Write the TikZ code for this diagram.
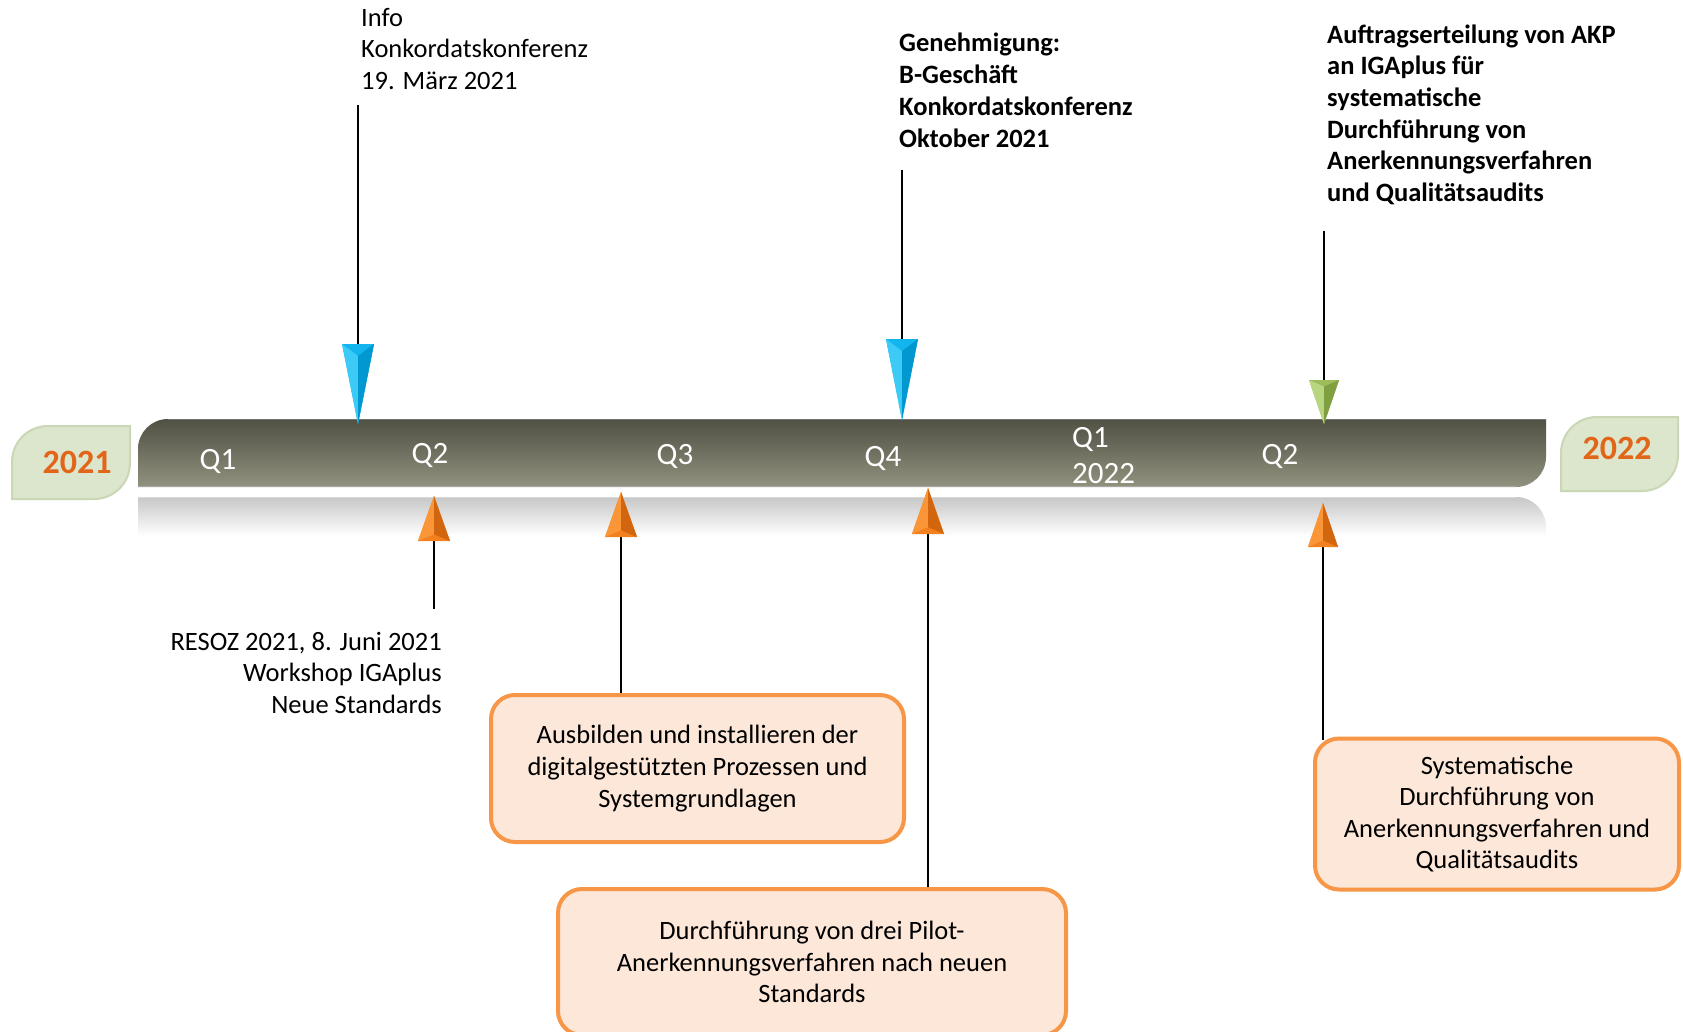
\documentclass[tikz,border=0pt]{standalone}
\usepackage{fontspec}
\setmainfont{Carlito}
\definecolor{barTop}{HTML}{505044}
\definecolor{barBot}{HTML}{92927F}
\definecolor{bluelight}{HTML}{3CCBF7}
\definecolor{bluemid}{HTML}{12B5EE}
\definecolor{bluedark}{HTML}{0098CE}
\definecolor{greenlight}{HTML}{B8D680}
\definecolor{greenmid}{HTML}{9DBD5B}
\definecolor{greendark}{HTML}{7F9F40}
\definecolor{orangelight}{HTML}{FB9638}
\definecolor{orangemid}{HTML}{F3801E}
\definecolor{orangedark}{HTML}{D2660E}
\definecolor{boxFill}{HTML}{FCE7D9}
\definecolor{boxLine}{HTML}{F79646}
\definecolor{leafFill}{HTML}{DCE6CC}
\definecolor{leafLine}{HTML}{CAD7B6}
\definecolor{yearText}{HTML}{E1661A}
\newcommand\pyr[5]{%
  \fill[#5mid] (#1-#4,#2) -- (#1+#4,#2) -- (#1,#3) -- cycle;
  \fill[#5light] (#1-#4,#2) -- ({#1},{#2+0.15*(#3-#2)}) -- (#1,#3) -- cycle;
  \fill[#5dark] (#1+#4,#2) -- ({#1},{#2+0.15*(#3-#2)}) -- (#1,#3) -- cycle;
}
\tikzset{
  txt/.style={inner sep=0pt, font=\fontsize{26.5}{31.7}\selectfont},
  btxt/.style={txt, font=\fontsize{26.5}{31.7}\selectfont\bfseries},
  qlab/.style={inner sep=0pt, text=white, font=\fontsize{31}{36}\selectfont},
  year/.style={inner sep=0pt, text=yearText, font=\fontsize{34}{36}\selectfont\bfseries},
  leaf/.style={fill=leafFill, draw=leafLine, line width=2pt},
  taskbox/.style={draw=boxLine, fill=boxFill, line width=4pt, rounded corners=24pt,
    align=center, inner sep=0pt, font=\fontsize{26.5}{31.6}\selectfont},
  conn/.style={draw=black, line width=1.8pt}
}
\begin{document}
\begin{tikzpicture}[x=1pt,y=-1pt]
\useasboundingbox (0,0) rectangle (1683,1031);
\clip (0,0) rectangle (1683,1031);
\fill[white] (0,0) rectangle (1683,1031);

% reflection of the bar
\shade[top color=black!22, bottom color=white]
  (138,497) -- (1516,497) .. controls (1532.6,497) and (1546,510.4) .. (1546,527)
  -- (1546,536) -- (138,536) -- cycle;
\draw[white!85!black, line width=1pt] (138,497.5) -- (1516,497.5);

% timeline bar
\shade[top color=barTop, bottom color=barBot]
  (138,487) -- (138,449) .. controls (138,432.4) and (151.4,419) .. (168,419)
  -- (1546,419) -- (1546,457) .. controls (1546,473.6) and (1532.6,487) .. (1516,487) -- cycle;
\draw[black!55, line width=1pt] (168,419.5) -- (1546,419.5);
\draw[black!35, line width=1.5pt] (138,486.5) -- (1516,486.5);

% year leaves
\path[leaf] (12,499) -- (12,462) .. controls (12,442) and (28,426) .. (48,426)
  -- (130,426) -- (130,463) .. controls (130,483) and (114,499) .. (94,499) -- cycle;
\node[year] (y2021) at (77,462) {2021};
\path[leaf] (1561,491) -- (1561,453) .. controls (1561,433) and (1577,417) .. (1597,417)
  -- (1678,417) -- (1678,455) .. controls (1678,475) and (1662,491) .. (1642,491) -- cycle;
\node[year] (y2022) at (1617,448) {2022};

% quarter labels
\node[qlab, anchor=base] (q1) at (218,469) {Q1};
\node[qlab, anchor=base] (q2) at (430,463) {Q2};
\node[qlab, anchor=base] (q3) at (675,464) {Q3};
\node[qlab, anchor=base] (q4) at (883,466) {Q4};
\node[qlab, anchor=base west] (q5) at (1072,447) {Q1};
\node[qlab, anchor=base west] (q5b) at (1072,483) {2022};
\node[qlab, anchor=base] (q6) at (1280,464) {Q2};

% top texts (anchored at the baseline of their last line)
\node[txt, anchor=base west, align=left] (t1) at (361,89.5)
  {Info\\Konkordatskonferenz\\19. März 2021};
\node[btxt, anchor=base west, align=left] (t2) at (899,147)
  {Genehmigung:\\B-Geschäft\\Konkordatskonferenz\\Oktober 2021};
\node[btxt, anchor=base west, align=left] (t3) at (1327,201.5)
  {Auftragserteilung von AKP\\an IGAplus für\\systematische\\Durchführung von\\Anerkennungsverfahren\\und Qualitätsaudits};

% bottom text
\node[txt, anchor=base east, align=right] (t4) at (442,713.5)
  {RESOZ 2021, 8. Juni 2021\\Workshop IGAplus\\Neue Standards};

% task boxes
\node[taskbox, minimum width=413pt, minimum height=147pt] (b1) at (697.5,768.5)
  {Ausbilden und installieren der\\digitalgestützten Prozessen und\\Systemgrundlagen};
\node[taskbox, minimum width=508pt, minimum height=146pt] (b2) at (812,962)
  {Durchführung von drei Pilot-\\Anerkennungsverfahren nach neuen\\Standards};
\node[taskbox, minimum width=364pt, minimum height=151pt] (b3) at (1497,814)
  {Systematische\\Durchführung von\\Anerkennungsverfahren und\\Qualitätsaudits};

% connector anchor points
\coordinate (s1) at (358,105);
\coordinate (a1) at (358,344);
\coordinate (s2) at (902,170);
\coordinate (a2) at (902,339);
\coordinate (s3) at (1324,231);
\coordinate (a3) at (1324,380);
\coordinate (o1) at (434,541);
\coordinate (e1) at (434,609);
\coordinate (o2) at (621,537);
\coordinate (o3) at (928,534);
\coordinate (o4) at (1323,547);

% connectors
\draw[conn] (s1) -- (a1);
\draw[conn] (s2) -- (a2);
\draw[conn] (s3) -- (a3);
\draw[conn] (o1) -- (e1);
\draw[conn] (o2) -- (o2 |- b1.north);
\draw[conn] (o3) -- (o3 |- b2.north);
\draw[conn] (o4) -- (1323,740);

% arrow heads
\pyr{358}{344}{424}{16}{blue}
\pyr{902}{339}{420}{16}{blue}
\pyr{1324}{380}{424}{15}{green}
\pyr{434}{541}{496}{16}{orange}
\pyr{621}{537}{492}{16}{orange}
\pyr{928}{534}{488}{16}{orange}
\pyr{1323}{547}{503}{15}{orange}
\end{tikzpicture}
\end{document}
